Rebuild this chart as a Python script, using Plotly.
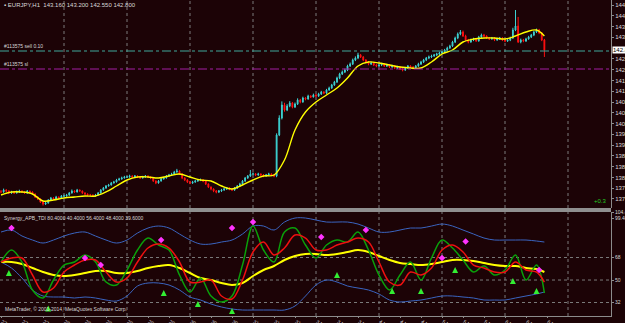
import plotly.graph_objects as go

# ---------------- data ----------------
first_open = 137.700
closes = [
    137.688,137.760,137.724,137.652,137.688,137.652,137.688,137.724,137.688,137.652,137.724,137.688,137.616,137.508,137.436,137.328,137.256,137.292,137.400,137.472,137.436,137.508,137.472,137.544,
    137.544,137.580,137.652,137.724,137.688,137.760,137.724,137.652,137.616,137.580,137.580,137.544,137.580,137.652,137.760,137.832,137.904,137.940,138.012,138.048,138.120,138.156,138.192,138.228,
    138.228,138.264,138.228,138.264,138.228,138.192,138.228,138.264,138.228,138.192,138.084,138.012,138.084,138.156,138.192,138.264,138.300,138.336,138.408,138.444,138.336,138.192,138.120,138.048,
    138.012,138.048,138.084,138.120,138.120,138.084,137.976,137.868,137.796,137.724,137.688,137.724,137.760,137.796,137.832,137.796,137.760,137.832,137.904,137.976,138.084,138.192,138.264,138.336,
    138.336,138.300,138.336,138.300,138.264,138.300,138.336,138.300,138.264,139.740,140.352,140.820,140.640,140.784,140.892,140.748,140.856,141.000,140.928,141.072,141.036,141.144,141.108,141.180,
    141.144,141.216,141.288,141.252,141.360,141.432,141.540,141.648,141.792,141.936,142.008,142.080,142.224,142.296,142.440,142.512,142.620,142.548,142.440,142.368,142.296,142.332,142.260,142.224,
    142.260,142.296,142.224,142.260,142.188,142.224,142.152,142.188,142.116,142.080,142.152,142.224,142.188,142.152,142.224,142.296,142.368,142.440,142.512,142.548,142.584,142.620,142.656,142.692,
    142.728,142.800,142.872,142.944,143.088,143.232,143.376,143.448,143.304,143.160,143.088,143.160,143.196,143.124,143.268,143.340,143.304,143.232,143.196,143.232,143.160,143.196,143.232,143.160,
    143.124,143.160,143.232,143.520,143.664,143.088,143.160,143.124,143.196,143.268,143.340,143.448,143.520,143.412,143.160,142.800,
]
highs = [
    137.76,137.81,137.79,137.75,137.73,137.72,137.74,137.77,137.75,137.71,137.76,137.74,137.71,137.64,137.54,137.46,137.35,137.34,137.43,137.51,137.50,137.55,137.53,137.58,
    137.59,137.62,137.69,137.78,137.75,137.80,137.78,137.74,137.68,137.64,137.62,137.60,137.62,137.69,137.79,137.87,137.94,137.98,138.05,138.09,138.16,138.20,138.24,138.27,
    138.27,138.31,138.29,138.30,138.29,138.26,138.27,138.30,138.29,138.25,138.22,138.11,138.12,138.19,138.23,138.30,138.34,138.38,138.45,138.52,138.47,138.36,138.22,138.15,
    138.08,138.09,138.12,138.16,138.17,138.15,138.11,138.00,137.89,137.82,137.76,137.76,137.80,137.84,137.87,137.86,137.82,137.87,137.94,138.02,138.12,138.23,138.30,138.48,
    138.39,138.37,138.38,138.36,138.33,138.34,138.38,138.36,138.33,139.80,140.45,140.95,140.90,140.85,140.96,140.93,140.91,141.06,141.04,141.12,141.10,141.19,141.17,141.23,
    141.22,141.26,141.33,141.32,141.40,141.48,141.58,141.69,141.84,141.98,142.06,142.13,142.27,142.35,142.49,142.57,142.70,142.66,142.58,142.47,142.40,142.38,142.36,142.29,
    142.30,142.34,142.32,142.30,142.29,142.27,142.25,142.23,142.22,142.15,142.19,142.26,142.25,142.22,142.26,142.34,142.41,142.48,142.55,142.60,142.63,142.66,142.70,142.74,
    142.77,142.84,142.92,142.99,143.13,143.28,143.43,143.52,143.50,143.35,143.20,143.21,143.24,143.23,143.31,143.39,143.38,143.33,143.26,143.27,143.26,143.24,143.27,143.26,
    143.20,143.20,143.28,143.60,144.24,143.99,143.21,143.20,143.24,143.31,143.38,143.49,143.57,143.56,143.45,143.20,
]
lows = [
    137.64,137.66,137.69,137.61,137.62,137.62,137.63,137.66,137.66,137.62,137.63,137.65,137.58,137.47,137.40,137.29,137.20,137.22,137.27,137.38,137.40,137.41,137.44,137.45,
    137.50,137.52,137.55,137.63,137.66,137.67,137.70,137.62,137.58,137.55,137.54,137.51,137.52,137.56,137.63,137.73,137.80,137.88,137.92,137.99,138.03,138.10,138.13,138.17,
    138.19,138.20,138.19,138.20,138.19,138.16,138.17,138.20,138.19,138.15,138.05,137.97,137.99,138.06,138.13,138.17,138.24,138.28,138.31,138.38,138.30,138.15,138.08,138.01,
    137.97,137.98,138.02,138.05,138.08,138.04,137.94,137.83,137.75,137.68,137.64,137.65,137.69,137.73,137.76,137.75,137.72,137.73,137.80,137.87,137.95,138.05,138.16,138.23,
    138.29,138.26,138.27,138.26,138.22,138.23,138.27,138.26,138.22,138.22,139.70,140.30,140.58,140.60,140.74,140.70,140.71,140.82,140.88,140.90,140.99,141.01,141.07,141.09,
    141.10,141.11,141.18,141.21,141.22,141.33,141.40,141.51,141.61,141.75,141.90,141.97,142.04,142.19,142.26,142.40,142.47,142.51,142.40,142.32,142.25,142.26,142.22,142.18,
    142.19,142.22,142.19,142.19,142.15,142.16,142.11,142.12,142.08,142.03,142.05,142.12,142.15,142.10,142.13,142.19,142.26,142.33,142.40,142.47,142.51,142.55,142.58,142.62,
    142.65,142.69,142.77,142.84,142.91,143.05,143.19,143.33,143.27,143.12,143.04,143.06,143.12,143.09,143.10,143.23,143.26,143.20,143.16,143.17,143.12,143.13,143.16,143.12,
    143.08,143.09,143.12,143.20,143.48,143.05,143.04,143.08,143.09,143.17,143.23,143.30,143.41,143.37,143.12,142.55,
]
bars = list(range(len(closes)))
opens = [first_open] + closes[:-1]

# sampled bars for moving average / indicator lines
sample_bars = list(range(0, 205, 4)) + [207]
ma_main = [137.580,137.688,137.688,137.616,137.364,137.400,137.472,137.508,137.544,137.544,137.688,137.904,138.120,
           138.228,138.228,138.192,138.264,138.336,138.228,138.120,138.084,137.904,137.796,137.940,138.120,138.264,
           138.300,138.840,139.920,140.568,140.928,141.180,141.432,141.792,142.224,142.368,142.332,142.260,142.188,
           142.152,142.152,142.368,142.656,142.800,143.088,143.196,143.232,143.232,143.196,143.304,143.448,143.520,143.304]

tdi_green = [64.4,74,64.4,42,35.6,50,62,64.4,70,64.4,48.4,46,58,74,83.6,78,74,54,40.4,51.6,37.2,32.4,37.2,62,
             93.2,74,64.4,88.4,91.6,78,67.6,78,82,80.4,88.4,74,54,42,54,64.4,50,67.6,82,75.6,66,56.4,61.2,54,
             58,70,50,62,39.6]
tdi_red = [64.4,67.6,67.6,54,40.4,43.6,56.4,62,66,66,56.4,48.4,51.6,64.4,75.6,78.8,75.6,64.4,48.4,48.4,50,37.2,
           34.8,50,72.4,80.4,70,75.6,86,83.6,74,74,78,80.4,83.6,80.4,64.4,48.4,46,56.4,54,59.6,74,78,72.4,62,
           59.6,56.4,56.4,64.4,58,56.4,48.4]
tdi_base = [64.4,64.4,62.8,59.6,56.4,54,53.2,54,55.6,57.2,57.2,55.6,55.6,57.2,59.6,61.2,62,59.6,55.6,51.6,
            50,47.6,46,47.6,53.2,58,61.2,66,69.2,70.8,70.8,70,70.8,72.4,74,72.4,69.2,66,63.6,62.8,
            62,62.8,64.4,66,66,65.2,63.6,62,61.2,61.2,59.6,58.8,56.4]
tdi_upper = [88.4,90,85.2,82,79.6,82,85.2,87.6,88.4,85.2,82,79.6,82,87.6,91.6,93.2,91.6,86.8,82,78.8,
             78.8,80.4,82,86.8,93.2,93.2,90,96.4,99.6,99.6,98,96.4,96.4,96.4,94.8,91.6,88.4,88.4,90,91.6,
             91.6,93.2,94.8,93.2,90,86.8,83.6,82,82,82,82,81.2,80.4]
tdi_lower = [64.4,59.6,51.6,42,37.2,36.4,36.4,35.6,36.4,35.6,34,33.2,37.2,45.2,47.6,47.6,46,42,36.4,34,
             30.8,28.4,26.8,26,26,26,26,26,29.2,37.2,46,50,48.4,45.2,43.6,42,38.8,34,32.4,33.2,
             34,35.6,37.2,37.2,36.4,35.6,34,34,34,35.6,37.2,38.8,40.4]

buy_bars = [3, 18, 62, 75, 88, 128, 149, 160, 173, 195, 204]
buy_vals = [58, 29.6, 42, 33.2, 27.6, 56.4, 43.6, 43.6, 60.4, 51.6, 43.6]
sell_bars = [4, 32, 38, 61, 88, 96, 122, 139, 168, 177, 205]
sell_vals = [91.6, 67.6, 62, 82, 91.6, 96.4, 84.4, 90, 67.6, 80.8, 58]

x_tick_bars = list(range(0, 209, 8))
x_tick_text = ["27 Oct 2014", "27 Oct 08:00", "27 Oct 16:00", "28 Oct 00:00", "28 Oct 08:00", "28 Oct 16:00",
               "29 Oct 00:00", "29 Oct 08:00", "29 Oct 16:00", "30 Oct 00:00", "30 Oct 08:00", "30 Oct 16:00",
               "31 Oct 00:00", "31 Oct 08:00", "31 Oct 16:00", "3 Nov 00:00", "3 Nov 08:00", "3 Nov 16:00",
               "4 Nov 00:00", "4 Nov 08:00", "4 Nov 16:00", "5 Nov 00:00", "5 Nov 08:00", "5 Nov 16:00",
               "6 Nov 00:00", "6 Nov 08:00", "6 Nov 16:00"]
price_ticks = [144.420, 144.032, 143.644, 143.256, 142.480, 142.092, 141.704, 141.316, 140.928,
               140.540, 140.152, 139.764, 139.376, 138.988, 138.600, 138.212, 137.824, 137.436]
ind_ticks = [104.0, 99.5, 68, 50, 32]
ind_tick_text = ["104.4578", "99.4627", "68", "50", "32"]
levels = [68, 50, 32]
day_bars = list(range(24, 217, 24))
order_price = 142.764
sl_price = 142.116
bid_price = 142.800

# ---------------- style ----------------
BG = "#1c0306"
GRID = "#7a7a7a"
AX = "#8c8c8c"
TXT = "#d8d8d8"
CYAN = "#3cd2d2"
RED = "#ff1010"
FONT = "Liberation Sans"

fig = go.Figure()

fig.add_trace(go.Candlestick(
    x=bars, open=opens, high=highs, low=lows, close=closes,
    xaxis="x", yaxis="y", whiskerwidth=0, hoverinfo="skip",
    increasing=dict(line=dict(color=CYAN, width=1), fillcolor=CYAN),
    decreasing=dict(line=dict(color=RED, width=1), fillcolor=RED),
    showlegend=False))
fig.add_trace(go.Scatter(x=sample_bars, y=ma_main, mode="lines", xaxis="x", yaxis="y",
                         line=dict(color="#ffff00", width=1.4, shape="spline"), hoverinfo="skip"))

# indicator
fig.add_trace(go.Scatter(x=sample_bars, y=tdi_upper, mode="lines", xaxis="x2", yaxis="y2",
                         line=dict(color="#3a64c0", width=1, shape="spline")))
fig.add_trace(go.Scatter(x=sample_bars, y=tdi_lower, mode="lines", xaxis="x2", yaxis="y2",
                         line=dict(color="#3a64c0", width=1, shape="spline")))
fig.add_trace(go.Scatter(x=sample_bars, y=tdi_base, mode="lines", xaxis="x2", yaxis="y2",
                         line=dict(color="#ffff00", width=2, shape="spline")))
fig.add_trace(go.Scatter(x=sample_bars, y=tdi_green, mode="lines", xaxis="x2", yaxis="y2",
                         line=dict(color="#0aa00a", width=1.5, shape="spline")))
fig.add_trace(go.Scatter(x=sample_bars, y=tdi_red, mode="lines", xaxis="x2", yaxis="y2",
                         line=dict(color="#ee1010", width=1.5, shape="spline")))
fig.add_trace(go.Scatter(x=buy_bars, y=buy_vals, mode="markers", xaxis="x2", yaxis="y2",
                         marker=dict(symbol="arrow-up", size=6, color="#33ee33")))
fig.add_trace(go.Scatter(x=sell_bars, y=sell_vals, mode="markers", xaxis="x2", yaxis="y2",
                         marker=dict(symbol="diamond", size=5, color="#ff33ff")))

shapes = []
for b in day_bars:
    shapes.append(dict(type="line", xref="x", yref="paper", x0=b, x1=b, y0=0, y1=1,
                       line=dict(color=GRID, width=1, dash="dot"), layer="below"))
for lv in levels:
    shapes.append(dict(type="line", xref="paper", yref="y2", x0=0, x1=1, y0=lv, y1=lv,
                       line=dict(color=GRID, width=1, dash="dot"), layer="below"))
shapes.append(dict(type="line", xref="paper", yref="y", x0=0, x1=1, y0=order_price, y1=order_price,
                   line=dict(color="#3fa89a", width=1, dash="dashdot")))
shapes.append(dict(type="line", xref="paper", yref="y", x0=0, x1=1, y0=sl_price, y1=sl_price,
                   line=dict(color="#a21ea2", width=1, dash="dashdot")))
shapes.append(dict(type="rect", xref="paper", yref="paper", x0=0, x1=1, y0=0.329, y1=0.3418,
                   fillcolor="#8f8f8f", line=dict(width=0)))

ann = [
    dict(xref="paper", yref="paper", x=0.003, y=0.999, xanchor="left", yanchor="top", showarrow=False,
         text="▪ EURJPY,H1  143.160 143.200 142.550 142.800", font=dict(family=FONT, size=6, color=TXT)),
    dict(xref="paper", yref="y", x=0.003, y=order_price, xanchor="left", yanchor="bottom", showarrow=False,
         text="#113575 sell 0.10", font=dict(family=FONT, size=5, color=TXT)),
    dict(xref="paper", yref="y", x=0.003, y=sl_price, xanchor="left", yanchor="bottom", showarrow=False,
         text="#113575 sl", font=dict(family=FONT, size=5, color=TXT)),
    dict(xref="paper", yref="y", x=1, y=bid_price, xanchor="left", yanchor="middle", xshift=1, showarrow=False,
         text="142.800", bgcolor="#ffffff", borderpad=0, font=dict(family=FONT, size=6, color="#000000")),
    dict(xref="paper", yref="y", x=0.982, y=137.17, xanchor="center", yanchor="bottom", showarrow=False,
         text="+0.3", font=dict(family=FONT, size=6, color="#22cc22")),
    dict(xref="paper", yref="paper", x=0.003, y=0.326, xanchor="left", yanchor="top", showarrow=False,
         text="Synergy_APB_TDI 80.4000 40.4000 56.4000 48.4000 39.6000", font=dict(family=FONT, size=5, color=TXT)),
    dict(xref="paper", yref="paper", x=0.005, y=0.005, xanchor="left", yanchor="bottom", showarrow=False,
         text="MetaTrader, © 2001-2014, MetaQuotes Software Corp.", font=dict(family=FONT, size=5, color=TXT)),
]

xr = [-0.38, 232.38]
fig.update_layout(
    width=625, height=323, margin=dict(l=0, r=14, t=0, b=7),
    paper_bgcolor=BG, plot_bgcolor=BG, showlegend=False, boxgap=0.55,
    shapes=shapes, annotations=ann,
    xaxis=dict(domain=[0, 1], anchor="y", range=xr, showticklabels=False, showgrid=False, zeroline=False,
               rangeslider=dict(visible=False), fixedrange=True),
    xaxis2=dict(domain=[0, 1], anchor="y2", range=xr, matches="x", tickvals=x_tick_bars, ticktext=x_tick_text,
                ticklabelposition="outside right", ticks="outside", ticklen=1, tickcolor=AX,
                tickfont=dict(family=FONT, size=5, color=TXT), showline=True, linecolor=AX, linewidth=1,
                showgrid=False, zeroline=False, automargin=False),
    yaxis=dict(domain=[0.3418, 1], anchor="x", side="right", range=[137.112, 144.6],
               tickvals=price_ticks, ticktext=[f"{v:.3f}" for v in price_ticks],
               ticks="outside", ticklen=2, tickcolor=AX, tickfont=dict(family=FONT, size=6, color=TXT),
               showline=True, linecolor=AX, linewidth=1, showgrid=False, zeroline=False, automargin=False),
    yaxis2=dict(domain=[0, 0.329], anchor="x2", side="right", range=[21.2, 104.4],
                tickvals=ind_ticks, ticktext=ind_tick_text,
                ticks="outside", ticklen=2, tickcolor=AX, tickfont=dict(family=FONT, size=5, color=TXT),
                showline=True, linecolor=AX, linewidth=1, showgrid=False, zeroline=False, automargin=False),
)

fig.write_html("out.html")
